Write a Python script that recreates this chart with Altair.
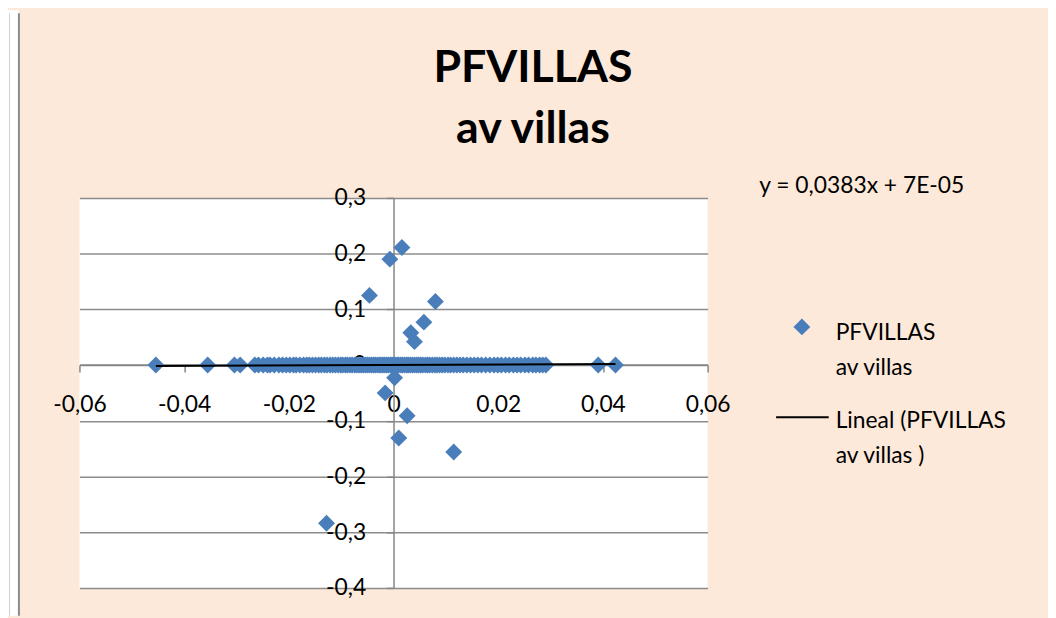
import altair as alt
import pandas as pd

# ---- chart texts ----
title_lines = ["PFVILLAS", "av villas"]
equation_text = "y = 0,0383x + 7E-05"
legend_series = ["PFVILLAS", "av villas"]
legend_trend = ["Lineal (PFVILLAS", "av villas  )"]

# ---- trend line coefficients (as printed) ----
trend_slope = 0.0383
trend_intercept = 0.00007

# ---- axis ticks ----
x_ticks = [-0.06, -0.04, -0.02, 0, 0.02, 0.04, 0.06]
y_ticks = [-0.4, -0.3, -0.2, -0.1, 0, 0.1, 0.2, 0.3]

# ---- data: points lying on y = 0 ----
zero_x = [-0.0454, -0.0355, -0.0304, -0.0293, -0.0265, -0.0258, -0.0249, -0.0241,
          -0.0236, -0.0228, -0.0219, -0.0212, -0.0205, -0.0198, -0.0191, -0.0186,
          -0.0179, -0.0172, -0.0166, -0.0161, -0.0155, -0.0149, -0.0143, -0.0138,
          -0.0132, -0.0127, -0.0121, -0.0116, -0.0111, -0.0106, -0.0101, -0.0097,
          -0.0092, -0.0088, -0.0083, -0.0079, -0.0074, -0.0070, -0.0066, -0.0062,
          -0.0058, -0.0054, -0.0050, -0.0046, -0.0042, -0.0038, -0.0035, -0.0031,
          -0.0027, -0.0024, -0.0020, -0.0017, -0.0013, -0.0010, -0.0006, -0.0003,
          0.0, 0.0003, 0.0007, 0.0010, 0.0014, 0.0017, 0.0021, 0.0025, 0.0028,
          0.0032, 0.0036, 0.0040, 0.0044, 0.0048, 0.0052, 0.0056, 0.0061, 0.0065,
          0.0069, 0.0074, 0.0079, 0.0083, 0.0088, 0.0093, 0.0098, 0.0104, 0.0109,
          0.0115, 0.0121, 0.0127, 0.0133, 0.0140, 0.0147, 0.0154, 0.0161, 0.0168,
          0.0176, 0.0184, 0.0192, 0.0199, 0.0206, 0.0214, 0.0221, 0.0229, 0.0236,
          0.0243, 0.0251, 0.0258, 0.0266, 0.0272, 0.0279, 0.0285, 0.0291, 0.0391,
          0.0424]
zero_y = [0.0] * len(zero_x)

# ---- data: points away from zero ----
out_x = [0.0016, -0.0007, -0.0046, 0.0080, 0.0058, 0.0033, 0.0040,
         0.0002, -0.0016, 0.0026, 0.0010, 0.0115, -0.0128]
out_y = [0.211, 0.190, 0.125, 0.114, 0.077, 0.058, 0.042,
         -0.023, -0.050, -0.091, -0.131, -0.156, -0.284]

pts = pd.DataFrame({"x": zero_x + out_x, "y": zero_y + out_y})

xmin, xmax = pts["x"].min(), pts["x"].max()
trend = pd.DataFrame({"x": [xmin, xmax],
                      "y": [trend_slope * xmin + trend_intercept,
                            trend_slope * xmax + trend_intercept]})

W, H = 633, 393
FONT = "Lato"
GRAY = "#868686"
BLUE = "#4A7EBB"
MSIZE = 290

x_scale = alt.Scale(domain=[-0.06, 0.06], nice=False, zero=False)
y_scale = alt.Scale(domain=[-0.4, 0.3], nice=False, zero=False)

x_label = ("abs(datum.value) < 1e-9 ? '0' : (datum.value < 0 ? '-' : '') + "
           "replace(format(abs(datum.value), '.2f'), '.', ',')")
y_label = ("abs(datum.value) < 1e-9 ? '0' : (datum.value < 0 ? '-' : '') + "
           "replace(format(abs(datum.value), '.1f'), '.', ',')")

x_axis = alt.Axis(values=x_ticks, orient="bottom", offset=-H * 0.4 / 0.7, title=None,
                  grid=False, domainColor=GRAY, domainWidth=1.5, tickColor=GRAY,
                  tickWidth=1.5, tickSize=7, labelFont=FONT, labelFontSize=23,
                  labelColor="black", labelPadding=33, labelBaseline="middle",
                  labelExpr=x_label, labelFlush=False, labelOverlap=False, zindex=0)
y_axis = alt.Axis(values=y_ticks, orient="left", offset=-W / 2, title=None,
                  grid=True, gridColor="#8c8c8c", gridWidth=1.5,
                  domainColor=GRAY, domainWidth=1.5, tickColor=GRAY, tickWidth=1.5,
                  tickSize=7, labelFont=FONT, labelFontSize=23, labelColor="black",
                  labelPadding=21, labelBaseline="middle", labelAlign="right",
                  labelExpr=y_label, labelFlush=False, labelOverlap=False)

points = alt.Chart(pts).mark_point(shape="diamond", filled=True, size=MSIZE,
                                   color=BLUE, opacity=1).encode(
    x=alt.X("x:Q", scale=x_scale, axis=x_axis),
    y=alt.Y("y:Q", scale=y_scale, axis=y_axis),
)

line = alt.Chart(trend).mark_line(color="black", strokeWidth=2).encode(
    x=alt.X("x:Q", scale=x_scale),
    y=alt.Y("y:Q", scale=y_scale),
)

one = pd.DataFrame({"k": [0]})

# spreadsheet strip at the far left
strip = alt.Chart(one).mark_rect(color="white").encode(
    x=alt.value(-72), x2=alt.value(-61), y=alt.value(-189), y2=alt.value(421))
strip_edge = alt.Chart(one).mark_rule(color="#8a8a8a", strokeWidth=2).encode(
    x=alt.value(-61), y=alt.value(-186), y2=alt.value(421))
strip_line = alt.Chart(one).mark_rule(color="#d0d0d0", strokeWidth=1).encode(
    x=alt.value(-70.5), y=alt.value(-186), y2=alt.value(421))

# chart title (two lines, centred on the whole chart area)
def title_text(s, yy):
    return alt.Chart(pd.DataFrame({"t": [s]})).mark_text(
        align="center", baseline="alphabetic", font=FONT, fontSize=45,
        fontWeight="bold", color="black"
    ).encode(x=alt.value(457), y=alt.value(yy), text="t:N")

title_layers = [title_text(title_lines[0], -117), title_text(title_lines[1], -55)]

eq = alt.Chart(pd.DataFrame({"t": [equation_text]})).mark_text(
    align="left", baseline="alphabetic", font=FONT, fontSize=23, color="black"
).encode(x=alt.value(685), y=alt.value(-5), text="t:N")

leg_sym = alt.Chart(one).mark_point(shape="diamond", filled=True, size=MSIZE,
                                    color=BLUE, opacity=1).encode(
    x=alt.value(728), y=alt.value(130))
leg_line = alt.Chart(one).mark_rule(color="black", strokeWidth=2).encode(
    x=alt.value(702), x2=alt.value(755), y=alt.value(221))

def leg_text(s, yy):
    return alt.Chart(pd.DataFrame({"t": [s]})).mark_text(
        align="left", baseline="alphabetic", font=FONT, fontSize=23, color="black"
    ).encode(x=alt.value(762), y=alt.value(yy), text="t:N")

legend_layers = [leg_text(legend_series[0], 143), leg_text(legend_series[1], 178),
                 leg_text(legend_trend[0], 232), leg_text(legend_trend[1], 267)]

chart = alt.layer(points, line, strip, strip_edge, strip_line, *title_layers, eq,
                  leg_sym, leg_line, *legend_layers).properties(
    width=W, height=H,
    background="#FDE9D9",
    autosize=alt.AutoSizeParams(type="none"),
    padding={"left": 72, "top": 189, "right": 343, "bottom": 28},
).configure_view(fill="white", stroke=None)

chart.save("out.html", embed_options={"renderer": "svg", "actions": False})
